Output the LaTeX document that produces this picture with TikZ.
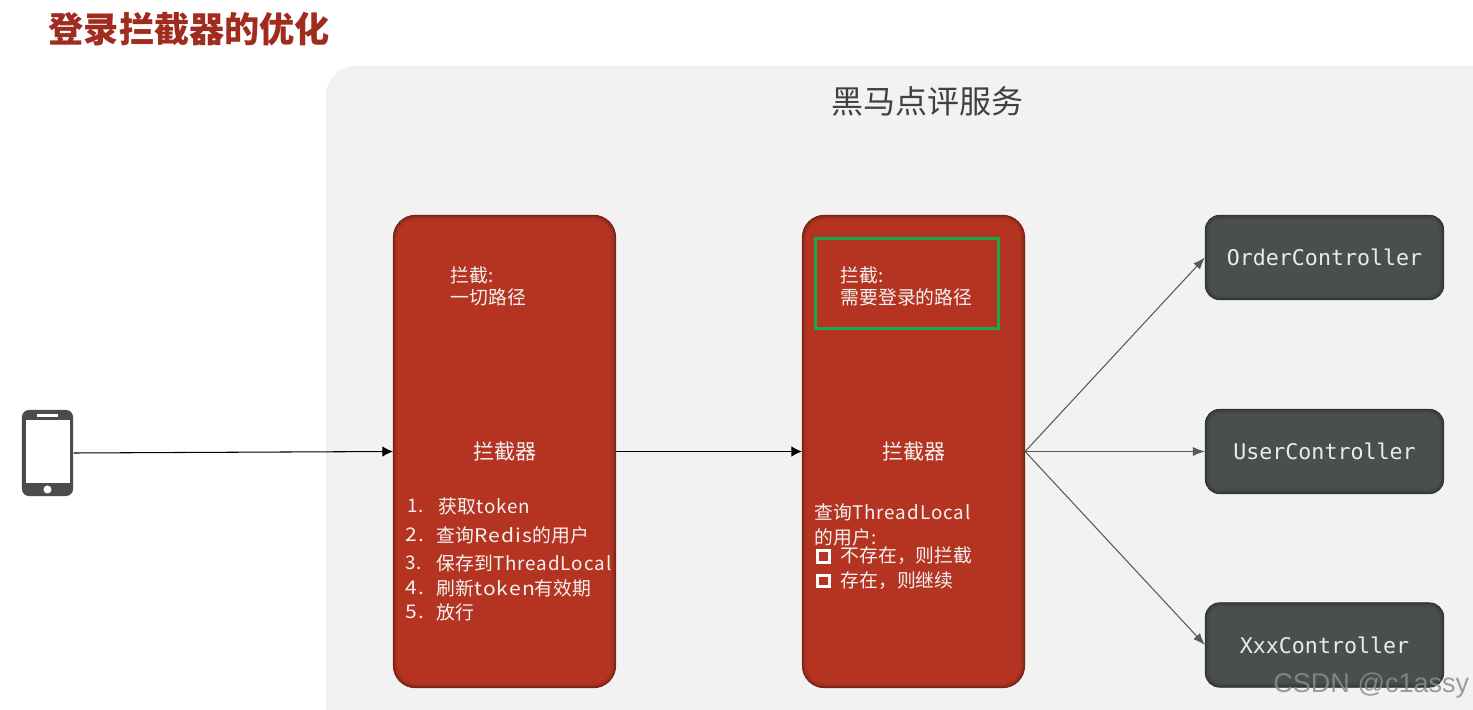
\documentclass[tikz,border=0pt]{standalone}
\usepackage{fontspec}
\setmainfont{Noto Sans CJK SC}
\newfontfamily\ctrlfont{DejaVu Sans Mono}
\newfontfamily\markfont{Liberation Sans}
\newfontfamily\loosefont[LetterSpace=5]{Noto Sans CJK SC}
\newfontfamily\widefont[LetterSpace=6,FakeStretch=1.12]{Noto Sans CJK SC}
\newcommand{\cjkcomma}{\symbol{"FF0C}}
\usetikzlibrary{arrows.meta,positioning}

\definecolor{panelgray}{HTML}{F2F2F2}
\definecolor{boxred}{HTML}{B53421}
\definecolor{boxredline}{HTML}{7A2418}
\definecolor{ctrlgray}{HTML}{4A4E4E}
\definecolor{ctrlline}{HTML}{333636}
\definecolor{titlered}{HTML}{A02C20}
\definecolor{boxgreen}{HTML}{1BA84A}

\tikzset{
  softedge/.style n args={3}{path picture={
    \foreach \w/\p in {2.4/20,1.4/45,0.7/75}
      \draw[color=#1!\p!#2,line width=\w pt,rounded corners=#3] (path picture bounding box.north west) rectangle (path picture bounding box.south east);
  }},
  redbox/.style={draw=boxredline,line width=0.3pt,fill=boxred,rounded corners=0.22cm,softedge={boxredline}{boxred}{0.22cm},minimum width=2.22cm,minimum height=4.72cm,inner sep=0pt},
  ctrlbox/.style={draw=ctrlline,line width=0.3pt,fill=ctrlgray,rounded corners=0.14cm,softedge={ctrlline}{ctrlgray}{0.14cm},minimum width=2.38cm,minimum height=0.84cm,inner sep=0pt,text=white!92!black,font=\ctrlfont\fontsize{6.15}{7}\selectfont},
  boxtext/.style={inner sep=0pt,anchor=west,text=white!95!black,font=\fontsize{5.35}{6}\selectfont},
  boxhead/.style={inner sep=0pt,text=white!95!black,font=\fontsize{6}{7}\selectfont},
  tickbox/.style={draw=white,line width=0.85pt,minimum size=0.115cm,inner sep=0pt},
  thinarrow/.style={-{Latex[length=1.05mm,width=1.05mm]},line width=0.3pt,color=black},
  fanarrow/.style={-{Latex[length=1.2mm,width=0.9mm]},line width=0.3pt,color=black!65}
}

\begin{document}
\begin{tikzpicture}[x=0.01cm,y=-0.01cm]

\useasboundingbox (0,0) rectangle (1473,710);
\clip (0,0) rectangle (1473,710);

\fill[white] (0,0) rectangle (1473,710);
\fill[black!6,rounded corners=0.3cm] (326,66) rectangle (1600,800); % panel edge
\fill[panelgray,rounded corners=0.3cm] (328,68) rectangle (1600,800); % panel

\node[inner sep=0pt,anchor=west,text=titlered,font=\fontsize{10}{12}\selectfont\bfseries] (title) at (48,29) {登录拦截器的优化};
\node[inner sep=0pt,text=black!75,font=\fontsize{9.1}{11}\selectfont] (paneltitle) at (927,101) {黑马点评服务};

% phone
\node[fill=black!70,rounded corners=0.07cm,minimum width=0.51cm,minimum height=0.86cm,inner sep=0pt] (phone) at (47.5,453) {};
\node[fill=white,minimum width=0.44cm,minimum height=0.63cm,inner sep=0pt] (screen) at (48,451.5) {};
\node[fill=white,minimum width=0.21cm,minimum height=0.03cm,inner sep=0pt] (speaker) at (47.5,415.5) {};
\node[fill=white,circle,minimum size=0.08cm,inner sep=0pt] (homekey) at (47.5,489.5) {};

% interceptors
\node[redbox] (first) at (504.5,451.5) {};
\node[redbox] (second) at (913.5,451.5) {};
\node[draw=boxgreen,line width=0.85pt,minimum width=1.83cm,minimum height=0.9cm,inner sep=0pt] (greenbox) at (907,283.5) {};

\node[boxhead] (firsthead) at (505,451.5) {拦截器};
\node[boxhead] (secondhead) at (914,451.5) {拦截器};

\node[boxtext] (firstA) at (450,275) {拦截:};
\node[boxtext] (firstB) at (450,297) {一切路径};
\node[boxtext] (secondA) at (840,275) {拦截:};
\node[boxtext] (secondB) at (840,297) {需要登录的路径};

% list of the first interceptor
\node[boxtext] (numA) at (407,506) {1.};
\node[boxtext] (itemA) at (438,506) {获取{\loosefont token}};
\node[boxtext] (numB) at (405,535) {{\widefont 2.}};
\node[boxtext] (itemB) at (436,535) {查询{\widefont Redis}的用户};
\node[boxtext] (numC) at (405,563) {3.};
\node[boxtext] (itemC) at (436,563) {保存到{\loosefont ThreadLocal}};
\node[boxtext] (numD) at (405,588) {{\widefont 4.}};
\node[boxtext] (itemD) at (436,588) {刷新{\widefont token}有效期};
\node[boxtext] (numE) at (405,612) {{\widefont 5.}};
\node[boxtext] (itemE) at (436,612) {放行};

% list of the second interceptor
\node[boxtext] (queryA) at (814,512) {查询{\loosefont ThreadLocal}};
\node[boxtext] (queryB) at (814,537) {的用户:};
\node[tickbox] (tickA) at (823.5,556.5) {};
\node[tickbox] (tickB) at (823.5,581) {};
\node[boxtext] (caseA) at (840,556) {不存在\cjkcomma 则拦截};
\node[boxtext] (caseB) at (840,581) {存在\cjkcomma 则继续};

% controllers
\node[ctrlbox] (order) at (1324.5,257.5) {OrderController};
\node[ctrlbox] (user) at (1324.5,451.5) {UserController};
\node[ctrlbox] (xxx) at (1324.5,645) {XxxController};

\draw[thinarrow] (phone.east) -- (first.west);
\draw[thinarrow] (first.east) -- (second.west);
\draw[fanarrow] (second.east) -- (order.west);
\draw[fanarrow] (second.east) -- (user.west);
\draw[fanarrow] (second.east) -- (xxx.west);

\node[inner sep=0pt,anchor=east,text=black!45,opacity=0.85,font=\markfont\fontsize{7.7}{9}\selectfont] (csdn) at (1470,685) {CSDN @c1assy};

\end{tikzpicture}
\end{document}
